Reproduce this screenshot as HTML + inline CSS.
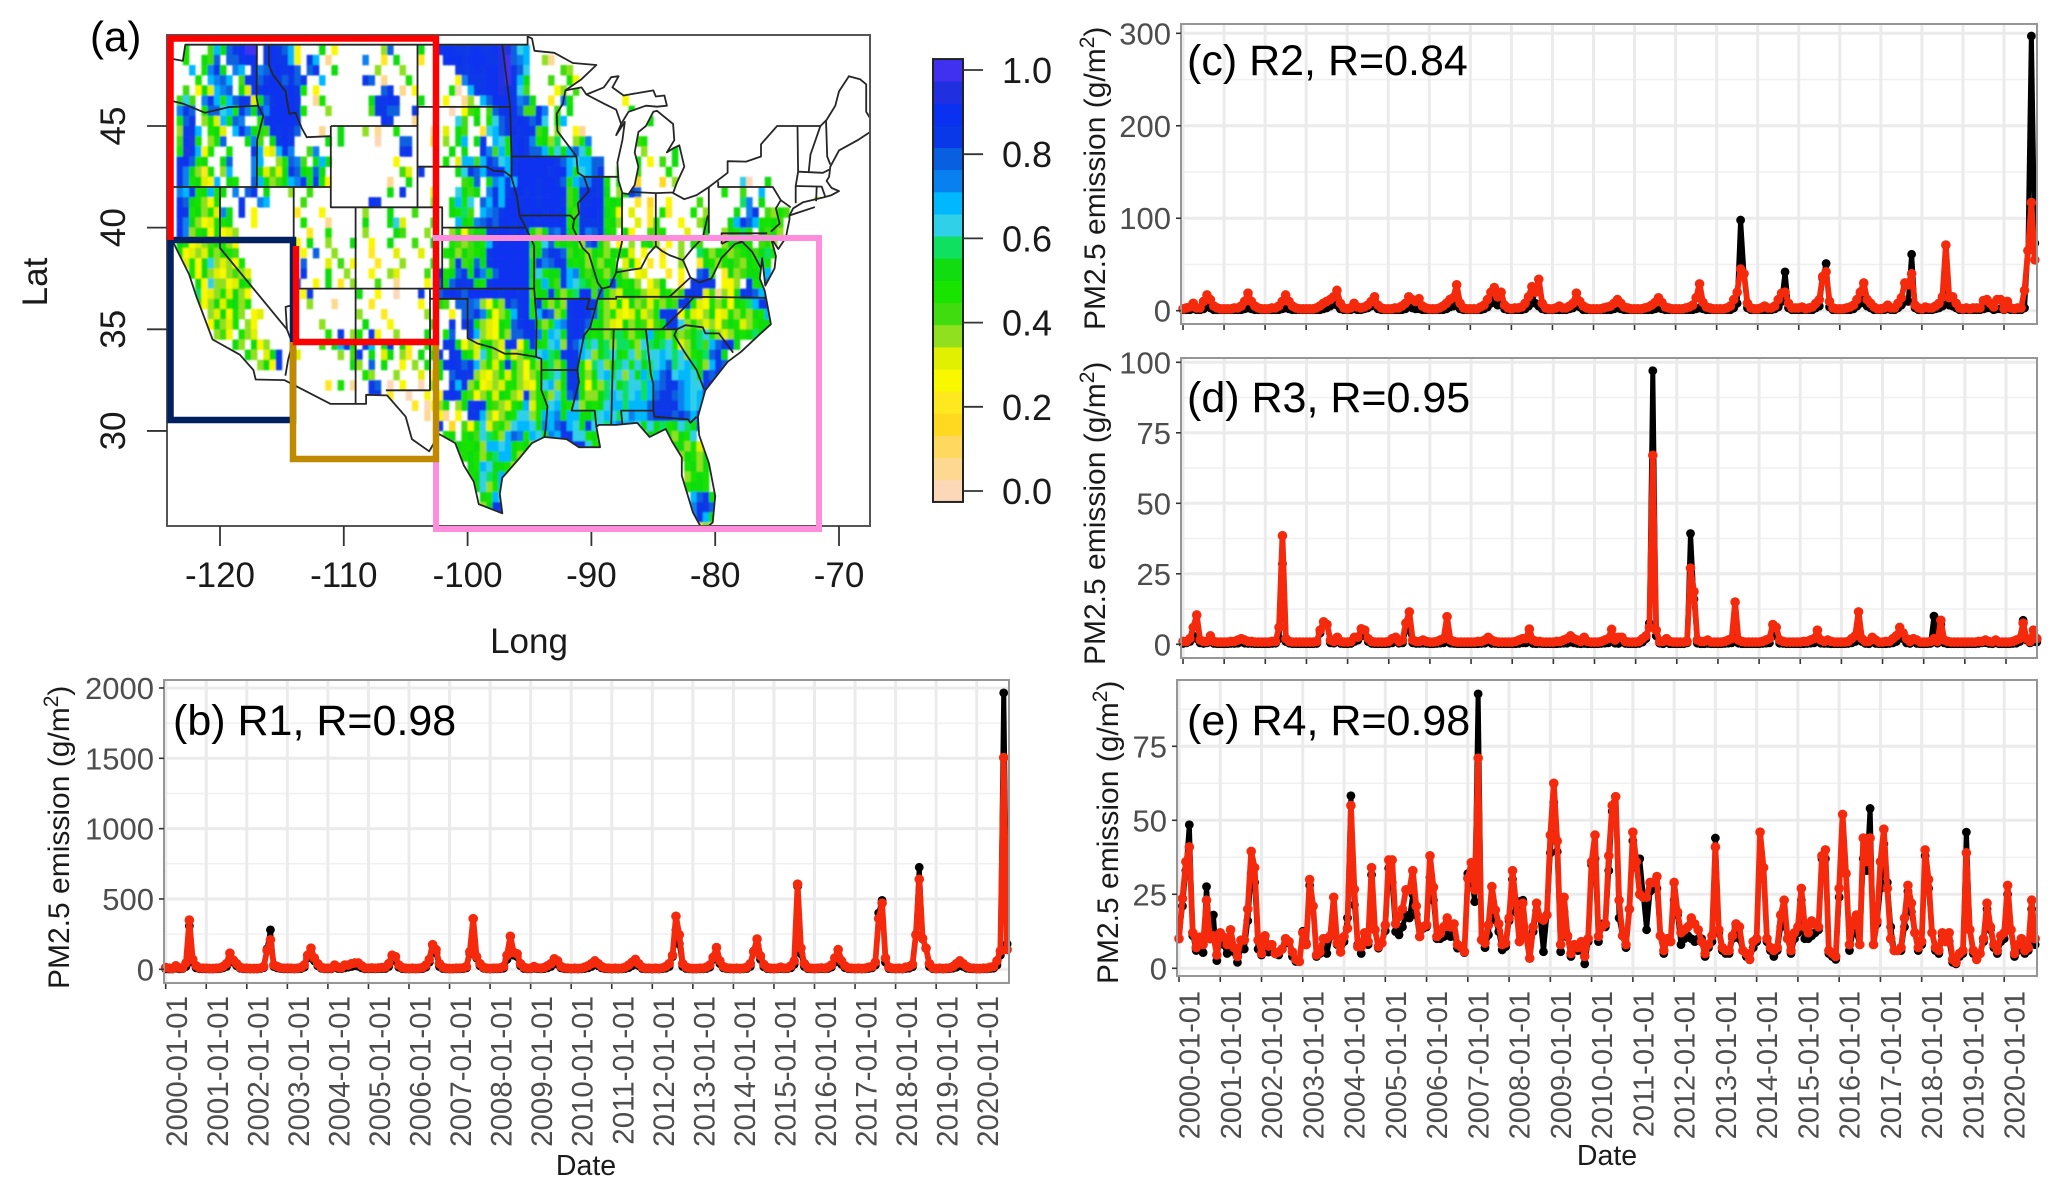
<!DOCTYPE html>
<html lang="en">
<head>
<meta charset="utf-8">
<title>PM2.5 emission map and regional time series</title>
<style>
html,body{margin:0;padding:0;background:#fff;}
svg{display:block;font-family:"Liberation Sans",sans-serif;}
</style>
</head>
<body>
<svg id="figure" xmlns="http://www.w3.org/2000/svg" width="2067" height="1199" viewBox="0 0 2067 1199">
  <rect x="0" y="0" width="2067" height="1199" fill="#fff"/>
  <defs>
    <filter id="soft" x="-2%" y="-2%" width="104%" height="104%"><feGaussianBlur stdDeviation="0.8"/></filter>
    <clipPath id="land-clip"><path id="land-clip-path" d=""/></clipPath>
    <clipPath id="map-box-clip"><rect x="168" y="36" width="702" height="490"/></clipPath>
  </defs>

  <g id="map-panel">
    <g clip-path="url(#map-box-clip)">
      <g filter="url(#soft)"><g id="heat-cells" clip-path="url(#land-clip)"></g></g>
      <g id="map-borders" fill="none" stroke="#262626" stroke-width="1.8" stroke-linejoin="round"></g>
    </g>
    <rect x="167" y="35" width="703" height="491" fill="none" stroke="#555" stroke-width="2"/>
    <g id="map-ticks"></g>
    <text x="90" y="51" font-size="42" fill="#000">(a)</text>
    <text x="529" y="653" font-size="35" fill="#1a1a1a" text-anchor="middle">Long</text>
    <text transform="translate(47,282) rotate(-90)" font-size="35" fill="#1a1a1a" text-anchor="middle">Lat</text>

    <rect x="436" y="238" width="383" height="291" fill="none" stroke="#ff8cdc" stroke-width="6"/>
    <rect x="170.5" y="240" width="122.5" height="180" fill="none" stroke="#00205f" stroke-width="6.5"/>
    <polyline points="293,342 293,459 436,459 436,342" fill="none" stroke="#bf8a00" stroke-width="6.5"/>
    <polyline points="170.5,240 170.5,38.5 436,38.5 436,342 296,342 296,246" fill="none" stroke="#ff0000" stroke-width="6.5"/>
    <line x1="433" y1="238" x2="822" y2="238" stroke="#ff8cdc" stroke-width="6"/>
  </g>

  <g id="colorbar"></g>

  <g id="panel-b"></g>
  <g id="panel-c"></g>
  <g id="panel-d"></g>
  <g id="panel-e"></g>
</svg>

<script>
// ---------- time-series values (monthly, Jan 2000 .. Oct 2020) ----------
const yearLabels = ["2000-01-01","2001-01-01","2002-01-01","2003-01-01","2004-01-01","2005-01-01","2006-01-01","2007-01-01","2008-01-01","2009-01-01","2010-01-01","2011-01-01","2012-01-01","2013-01-01","2014-01-01","2015-01-01","2016-01-01","2017-01-01","2018-01-01","2019-01-01","2020-01-01"];

const ticksB = [0,500,1000,1500,2000];
const ticksC = [0,100,200,300];
const ticksD = [0,25,50,75,100];
const ticksE = [0,25,50,75];

const r1Observed = [
3,2,2,8,3,5,20,308,50,10,4,3,
3,2,2,3,4,10,20,85,50,25,8,3,
3,2,2,2,4,12,145,280,20,10,5,3,
3,3,2,3,5,15,80,100,60,25,8,3,
3,3,12,6,4,10,15,20,25,22,10,3,
3,4,3,4,5,6,20,70,60,15,5,3,
2,3,2,3,5,15,50,170,115,20,6,3,
2,2,3,3,4,10,110,360,80,25,8,3,
2,3,3,4,8,70,230,100,90,25,6,3,
3,8,4,3,5,10,20,50,35,10,4,3,
2,3,2,3,6,10,20,40,25,10,4,3,
2,3,2,3,6,12,25,45,25,6,3,3,
2,3,2,4,8,20,90,280,180,20,6,3,
2,2,3,3,6,15,70,100,40,10,4,3,
2,3,2,3,6,20,130,170,70,18,5,3,
2,3,6,3,4,10,35,590,110,20,5,3,
2,3,4,3,6,15,50,90,35,12,4,3,
2,3,2,3,6,10,30,400,490,50,6,3,
2,3,2,6,8,18,250,725,215,150,20,4,
2,3,2,3,4,8,15,30,20,8,4,3,
2,2,3,3,6,8,30,100,1965,180];

const r1Modeled = [
12,8,6,25,10,10,45,350,70,25,10,8,
8,6,6,8,10,20,40,115,65,40,15,8,
8,6,6,6,8,20,135,210,30,20,10,8,
8,8,6,8,12,30,100,150,80,40,15,8,
8,8,30,15,10,30,30,40,45,45,25,10,
8,10,8,10,12,15,40,100,90,30,12,8,
6,8,6,8,12,30,70,175,140,40,15,8,
6,6,8,8,10,20,125,360,90,40,15,8,
6,8,8,10,20,100,235,120,110,40,15,8,
8,20,10,8,12,25,40,75,60,20,10,8,
6,8,6,8,15,25,40,60,40,20,10,8,
6,8,6,8,15,30,50,70,40,15,8,8,
6,8,6,10,20,40,100,377,245,40,15,8,
6,6,8,8,15,30,85,155,60,20,10,8,
6,8,6,8,15,40,125,215,95,35,12,8,
6,8,15,8,10,25,60,605,150,40,12,8,
6,8,10,8,15,30,80,140,60,25,10,8,
6,8,6,8,15,20,50,360,470,80,15,8,
6,8,6,15,20,35,245,640,220,150,40,10,
6,8,6,8,10,20,40,60,40,20,10,8,
6,6,8,8,15,20,60,130,1505,140];

const r2Observed = [
1,1,1,2,1,1,2,5,3,1,1,1,
1,1,1,1,1,1,2,3,2,1,1,1,
1,1,1,1,1,2,3,2,1,1,1,1,
1,1,1,1,1,2,3,5,10,6,2,1,
1,1,2,1,1,2,3,5,8,2,1,1,
1,1,1,1,1,2,5,3,2,2,1,1,
1,1,1,1,1,2,4,5,10,2,1,1,
1,1,1,1,2,4,8,12,6,10,2,1,
1,1,1,1,2,5,15,8,5,2,1,1,
1,1,1,1,1,2,3,8,4,1,1,1,
1,1,1,1,1,1,2,3,2,1,1,1,
1,1,1,1,1,1,2,3,2,1,1,1,
1,1,1,1,1,1,2,3,2,1,1,1,
1,1,1,1,1,3,8,98,40,3,1,1,
1,1,1,1,1,2,4,10,42,3,1,1,
1,1,1,1,1,3,5,35,51,4,1,1,
1,1,1,1,2,5,8,12,5,3,1,1,
1,1,2,1,1,3,6,10,10,61,3,1,
1,1,1,1,2,3,5,22,6,5,3,1,
1,1,1,1,1,1,2,3,3,1,2,2,
1,2,1,1,1,1,3,65,297,73];

const r2Modeled = [
2,3,4,8,3,3,10,17,12,5,3,2,
2,2,2,3,3,5,10,19,10,5,3,2,
2,2,3,3,5,10,17,10,5,3,2,2,
2,2,2,3,5,8,10,12,15,22,8,3,
2,3,8,4,3,4,6,10,15,6,3,2,
2,2,3,3,5,8,15,12,10,13,5,3,
2,2,2,3,5,8,12,14,28,8,3,2,
2,2,2,4,6,12,20,25,15,20,6,3,
2,3,3,4,8,15,26,20,34,8,3,2,
2,3,5,3,3,5,8,19,10,5,3,2,
2,2,2,3,4,5,8,12,8,4,3,2,
2,2,2,3,4,6,9,14,9,4,3,2,
2,2,2,3,4,6,14,29,9,4,3,2,
2,2,2,3,5,12,20,45,40,8,3,2,
2,3,5,3,3,5,12,19,20,8,3,3,
3,4,2,3,4,8,12,37,42,10,3,2,
2,2,3,4,6,12,20,30,12,8,4,2,
2,3,6,3,3,8,14,30,28,40,6,3,
2,4,3,3,5,8,15,71,14,15,8,3,
2,3,2,3,3,3,11,12,8,4,12,12,
2,10,3,2,3,3,22,65,117,55];

const r3Observed = [
0.3,0.5,1,3,2,0.5,0.3,0.5,1,0.3,0.2,0.2,
0.2,0.2,0.3,0.3,0.4,0.8,0.4,0.3,0.3,0.2,0.2,0.2,
0.2,0.2,0.3,0.4,2,28.5,1,0.4,0.2,0.2,0.2,0.2,
0.2,0.2,0.2,0.3,4,8,7,0.5,0.4,1,0.3,0.2,
0.2,0.3,1,1.5,3,3,1,0.3,0.2,0.2,0.2,0.2,
0.3,0.5,1,0.4,0.5,5,5,0.5,0.3,0.3,0.4,0.3,
0.2,0.2,0.3,0.4,0.5,3,0.4,0.3,0.2,0.2,0.2,0.2,
0.2,0.2,0.2,0.3,0.4,1,0.3,0.3,0.2,0.2,0.2,0.2,
0.2,0.2,0.3,0.5,0.5,1,0.3,0.2,0.3,0.2,0.2,0.2,
0.2,0.2,0.3,0.4,0.4,0.8,0.5,0.3,0.2,0.3,0.2,0.2,
0.2,0.2,0.3,0.4,0.5,2,0.4,0.3,0.8,0.3,0.2,0.2,
0.2,0.3,0.8,2,7.5,97,3,0.4,0.2,0.8,0.2,0.2,
0.2,0.2,0.2,0.5,39.3,16,0.4,0.2,0.2,0.3,0.2,0.2,
0.2,0.2,0.3,0.4,0.5,5,0.4,0.2,0.2,0.2,0.2,0.2,
0.2,0.3,0.4,0.5,3,3,0.4,0.3,0.2,0.2,0.2,0.2,
0.2,0.2,0.3,0.4,0.5,3,0.4,0.3,0.3,0.2,0.2,0.2,
0.2,0.2,0.3,0.5,1,6,1,0.3,0.2,1,0.3,0.2,
0.2,0.2,0.3,0.5,1,3,2,0.5,0.3,1,0.3,0.2,
0.2,0.2,0.3,10,0.4,7,0.5,0.2,0.2,0.2,0.2,0.2,
0.2,0.2,0.2,0.2,0.3,0.5,0.6,0.3,0.2,0.5,0.2,0.2,
0.2,0.2,0.3,0.4,1,8.5,1.5,0.5,1,0.8];

const r3Modeled = [
1,1,2,6,10.4,1.5,1,1,3,1,0.8,0.8,
0.8,0.8,1,1,1.5,2,1.5,1,1,0.8,0.8,0.8,
0.8,0.8,1,1,6,38.5,2,1,0.8,0.8,0.8,0.8,
0.8,0.8,0.8,1,5,8,7,1.5,1,2.5,1,0.8,
0.8,1,2.5,2.5,5.5,5,2,1,0.8,0.8,0.8,0.8,
1,2,2.5,1,1.5,7.5,11.5,1.5,1,1,1.5,1,
0.8,0.8,1,1.5,2,9.8,1.5,1,0.8,0.8,0.8,0.8,
0.8,0.8,1,1,1.5,2.5,1.5,1,0.8,0.8,0.8,0.8,
0.8,1,1.5,2,2,5.4,1.5,1,1,0.8,0.8,0.8,
0.8,1,1,1.5,2,3,2,1.5,1,2.5,1,0.8,
0.8,0.8,1,1.5,2,5.3,1.5,2.5,2.5,1,0.8,0.8,
0.8,1,2,3,6,67,5,1,1,2,1,0.8,
0.8,0.8,0.8,1,27,18.7,1.5,1,1,1.5,0.8,0.8,
0.8,0.8,1,1.5,2,15,1.5,1,0.8,0.8,0.8,0.8,
0.8,1,1.5,2,7,6,1.5,1,0.8,0.8,0.8,0.8,
0.8,1,1,1.5,2,5,1.5,1,1.5,1,0.8,0.8,
0.8,0.8,1,2,3,11.5,2,1,1,2.5,1.5,0.8,
0.8,1,1,2,3,6,4,2,1,2,1.5,0.8,
0.8,0.8,1,2,1,8.5,1.5,1,0.8,0.8,0.8,0.8,
0.8,0.8,0.8,0.8,1,1,1.5,1,0.8,1.5,0.8,0.8,
0.8,0.8,1,1.5,2,7.5,2,1,5,2];

const r4Observed = [
10,21,33,48.5,11,6,7,5.3,27.6,10,18,2.6,
12,8,5,10,5.5,2,7,6.5,16,32,29,6.5,
4.5,8.5,5.5,8,5,4.5,6.5,8.5,9,4,2.3,2.3,
12.5,8.5,28,21,4,5,8,5,10.7,24,8,5.5,
9,17,58.3,21.4,8,5,12,8,31.6,13,6.8,8.5,
12.7,33.8,29,12.4,11.3,14,18,17,25,18,10.7,13.5,
14,30.7,23,10,10,10.7,11.3,10.7,11.8,6.8,7,5.3,
32,31,22.5,92.7,9.6,7,11.3,27.6,16.3,12.4,6.2,7.3,
16,30,19,22.5,23,10.7,3.4,12.4,19.4,17,5.6,18,
39,56,39.4,5.6,19,10.5,4,7,6,7,1.5,9,
35,37,9,15,14,33,53,58,17,11,7,20,
43,34,37,25,13,26,27,27,11,5,10,9,
23,18,8,10,11,10,9,10,10,4,7,9,
44,12,6,5,5,10,14,10,6,4,3,7,
9,46,34,9,6,4,6,14,17,10,5,10,
12,23,10,10,11,12,13,37,37,5,4,3,
24,52,32,6,12,12,8,37,33,54,8,15,
27,42,29,14,6,6,6,14,26,19,12,6,
8,38,27,12,6,5,11,9,9,2,1.5,4,
5,46,13,5,3,5,9,20,13,7,5,9,
10,25,13,4,6,9,5,6,20,8];

const r4Modeled = [
10,23.6,36,41,12,7,10.5,8,23,10,11,4.5,
12,10.5,8,13,7,4,9.5,9.5,20,39.5,34,9.5,
5,11,7.5,8,5,5.5,6.5,10,9,5.5,3,2.3,
12,8,30,21,4.5,5.5,10,10,11,24,8.5,5.5,
10.7,13.5,55,26.7,7.3,7.3,12,9,34,13,7.3,8.5,
14.6,36.6,36.6,15,17.5,20,26.5,26.5,33,21,10.7,14,
14.6,38,27.4,10.7,11.8,14,17,14,15,8,7.3,5.6,
30.4,35.7,26.5,71,9.6,8.5,14.6,27.6,19.7,15,8,8.5,
17,33,22,9,22,10.7,3.4,14,22,17,16.3,18,
45,62.5,43,8,24,11,5,8,7,9,4,10,
36,45,10.8,14,15,38,55,58,23,11,8,20,
46,36,25,24,24,29,29,31,11,6,10,9,
29,19,12,13,14,17,15,13,9,5,8,11,
41,13,7,6,6,11,15,14,6,5,3,9,
10,46,34,10,7,6,7,18,23,10,6,12,
14,27,14,12,16,15,14,38,40,6,5,4,
27,52,32,8,16,18,8,44,36,44,8,16,
36,47,27,10,6,6,7,17,28,22,12,7,
9,40,30,12,7,6,12,9,12,3,2,5,
6,39,13,6,3,5,10,22,14,8,6,11,
12,28,13,5,8,10,6,7,23,10];

// ---------- map grid values: one string per 0.5 degree of latitude, top row 49N.
// Letters a..t are ascending fractions, '.' is no data, '_' is a 5-degree empty group.
// Groups start at lon -125,-120,-115,-110,-105,-100,-95,-90,-85,-80,-75,-70.
const heatRows = [
"....j...in kpqrtt.qrq pnf...k.f. ......hp.. ..k..qrrqq qrqqrsspmn",
"....j..kip .ppqrr.qrq qnf.qn.b.. ...o..e.k. ..e...rrrq rrrqqstpon ..hb......",
".....n.joq k.on.qopqr qrp.pq..k. .....h...h ........qq qrqrrstqpm .....ih...",
"......j.no pn.iqqpqrq pqpq..n... ...qp.b... j.......fo qqqrrstqnk ...i..jf..",
"....i.fkgn op.kgqqrrr qrqj.f.... ......pq.b .f.....ja. nqqrrsrqmi ....fh.i..",
"...imi.oqn jnpqqgkpqr rrq..bj... ....kqqrq. ..k...f..b h.nprrrqop k..e.oj... .....f....",
"...oqp.jpp mnjqokqorr rrqj...h.. ....iqqpp. .q.....a.f ij.ipqrrpi iro.i.k... ......k...",
"...jpq.hjg nkpo..jqrr rrq....... ......rq.. .b......mi .k.jmpqqrq pqm.jn.... .........k",
"...hqqn.jk g.nqokjirq rqp...b..k ...h.b..j. ....b.g.ki ..emnpqrqr qik.h..fb. ......i...",
"...iqsj.hj p...koi.kq rq.....k.k .....a...p p...d.h.kn .kq.nmjqrq ojkhl..hjo .......ij. .....j....",
"...jsqnfj. .j...qnfgn qo..io.... .........q r......k.k ..qoinjqrq ppnjmknpmj ......i.h. ...k......",
"...qrpjk.. kp...on..h jpoi.knk.. ........f. ......j.gn ninqpmnqrr rrrrqpnmnn pp...j.k.f .i.k......",
"...qokhej. hn...okgig kqpkjpk... .........i g.q.....km qpnqqrnqrr rrrqrrnjmn pq..iihi.. ..j.......",
"...qojkgfn .kj..pnkhi knoqjqjf.. .......b.. k........i jp.konqnrr rqrrqpjnoo qqj.kh.d.. .d.h...... ....ma..k.",
"...onqjknj k.o.pq.k.. .h..i..... .......k.q ....g...mk ik.oqnqrrq rqrrrrikqr qqk.hkqp.. .....j.... .j..i..n..",
"...qpkjhfj ...q..on.. ...i...... ....rq.... ....h..knj m.pnqnrrqr rqrrrqikqq rrjkj..e.d ..f....i.. ....lo.k.. ......h..p",
"...rqjkhjg ok.q.f.... ..e...f... ...h...k.. .i.....kjl i.nopqrrrq rrqrqrjiqr rqkjf.g..e .je...j.h. ...k.oq.ih ji........",
"...qokhfgj jk...f.... ...j...b.. ...k...kmg ....i...nk jopqprrqrq rqrrrrjkqq qqjkh..g.e j...f..hj. ..knqpnjjk i.........",
"...rohjkfj fgh....... ....e..j.. ...h....ki ...h...hkf ikkqqrrqrq jhkpoqkjqo pqkj.kf..i ij...g..k. .hkjlj.kij h.........",
"...kjfghij jhf....... ..f.k..h.. .k..f..k.. .i..k..jih ikjnqrrrrr kjmpjkjkhp qkh.f.h.jk h.f.h.ji.. .hkjkj.ijh",
"...jfghgjh kji....... ...f.p..h. ....e...g. ..g...jkhk ijkqrrrrrr ikpqqpikjh kjhkjkg.f. .e..h..lkh kjhijkiklj",
"....gjfkmh ghfj...... ...p...g.i .f...e...h ....j..iqi jpkqrrrrrr kqoprqkjkh jhkj.gkf.e .f..h..ekj hjkihkjlj.",
".....jfkhg fhihg..... ...q...k.. h...f..hg. ...i.qjkpq kqokprrrrr kmjkkqnoki kjhkkh.fg. ..e.f..pqi .ekhikkjn.",
"......kfmh hfgkj..... ..p..f.k.e .h...i..b. ...f.pkpqq qkjqrrrrrr jknkiqnmlk ikjrkjkh.f hk..e.qqrq .ffh.qjko.",
"......lfgh jgkhf..... ...fq..... ..k..f..a. ..q..pqrqp rrrrrqrrqr ikkqkhjlrr ipjhgkkjhg gkjhiqqqgi bhfkqqpnqo",
"......ifhk gjkhj..... ....h...b. ....e..... ..f..ki.pp pohfjhqpqr jqjhkhqrrq qjhgjfkhig jhjiqrjgfj hjfkjlnqrp",
"........hg kfjh.fg... .......... ..h...e... ...h...f.p pqojfhjnqr jnqphjqrrq pkhjgfgjgh jqqrfjgfhk fgjhjhkjnq",
"........fk hgj.hf.... ......h... ...k...f.. ....i..q.q qkhgfkjpqr qkhjnoqrqp jkhgfkhjig ikqqmhjhgh fikjghjkkq",
".........h if.jhg.... .......j.q .hj.qf..h. ...k..jp.. qnhgfkhppq rojnmkqrqk jkhjljhjkn kjhkhiklmj hghkjklk..",
"_ ..kh.kfh.. ......i.kn qj.qn.jq.k f..jh.qqkf hgjkhgqqfk qkjmnhqpnl mklhlljhml klmjghklin pqrk......",
"_ ....kh.gkq ..g......h .iq.k.gk.h e.k.jq.rqk jgmjhfjghk jmnlkqrqnm hklmkjmhlm mnmlmhjklp qk........",
"_ ......hkfq .......... .kh.p.k..f .h.k.jqrqp qnhjgkqkhf jhklhkqqjg lmhklmjmkl mnplmnlkhn qp........",
"_ _ .......... ...jh...h. ..g.ek.pqq qhgfhjgjhf hjklmkqqjh kmnlmhmknl npqmnnmkqp q.........",
"_ _ .......e.j .b..qp.a.f ..a.h..qnq hjfghgjjhg fjmnhkqqjf jhlmklmmln opqqonmmqr",
"_ _ _ ....qq.e.. a..f.fqrqj ifhjgkjhgq hjkhmjpqjh hklnmlmnln pqqponmnq.",
"_ _ _ _ .e.afhk.hk qrqjihgjkn gjkmnkjmhk jkmnnlnnnp qqqqonmnm.",
"_ _ _ _ ...b.fb.f. qqnhfhkjmm hjnnoknnkk lmnmlmonnp qqqpqpnqk.",
"_ _ _ _ .....q.d.i fjmgijhmnn mkonpqnmkq mmlnonnmkm kljkmlkq..",
"_ _ _ _ ......jk.j kimljhnpoj nmkonqqmmj k.......hk kijhkjm...",
"_ _ _ _ ........kj jkhnnmnkjk hj..jkqrqm jk...... ...jkhjgh.",
"_ _ _ _ ........ij kjhklnnkhj .......... _ ....hkjhk.",
"_ _ _ _ _ kjnmkkjhkn _ _ .....jkhk.",
"_ _ _ _ _ jkmlknjh.. _ _ .....hjkj.",
"_ _ _ _ _ .kmhjnkk.. _ _ .....jkkj.",
"_ _ _ _ _ ..kjnmjk.. _ _ ......npqk",
"_ _ _ _ _ ..hkqqq... _ _ ......oqqp",
"_ _ _ _ _ ....qq.... _ _ ......oqnk",
"_ _ _ _ _ _ _ _ .......ghf"
];

const colorbarTicks = [0,0.2,0.4,0.6,0.8,1.0];
const lonTicks = [-120,-110,-100,-90,-80,-70];
const latTicks = [30,35,40,45];

// ---------- map geography (longitude, latitude) ----------
const usOutline = [[-124.7,48.4],[-123,48.2],[-122.8,49],[-95.15,49],[-95.15,49.4],[-94.8,49.3],[-94.6,48.7],[-93,48.6],[-91.5,48.1],[-89.6,48],[-90.8,47.3],[-92.1,46.75],[-90.8,46.9],[-90.4,46.55],[-89,46.9],[-88.4,47.4],[-87.8,47.45],[-88.3,46.9],[-87.4,46.5],[-86,46.65],[-85,46.75],[-84.8,46.45],[-84.1,46.5],[-83.9,46],[-84.7,45.95],[-85.6,46],[-86.5,45.8],[-87,45.7],[-87.6,45.1],[-88,44.55],[-87.3,45.2],[-87.5,44.3],[-87.9,43.2],[-87.8,42.3],[-87.5,41.7],[-87,41.65],[-86.5,42.1],[-86.2,43],[-86.5,43.7],[-86.2,44.7],[-85.6,45],[-85,45.7],[-84.7,45.75],[-83.4,45.1],[-83.3,44.3],[-83.9,43.7],[-83.4,43.9],[-82.9,44.05],[-82.5,43],[-83.1,42.2],[-83.4,41.7],[-82.5,41.4],[-81.5,41.6],[-80.5,42],[-79,42.7],[-79,43.27],[-77.5,43.25],[-76.3,43.5],[-76.3,44.1],[-75,45],[-71.5,45],[-71,45.3],[-70.3,46],[-70,46.7],[-69.2,47.45],[-68.3,47.3],[-67.8,47.05],[-67.8,45.7],[-67,44.9],[-68.5,44.3],[-70,43.8],[-70.7,43],[-70.8,42.5],[-71,42.3],[-70.6,41.95],[-70,41.8],[-70.6,41.6],[-71.2,41.5],[-72.9,41.25],[-73.7,40.95],[-74,40.6],[-74,40.4],[-74.3,39.5],[-74.9,38.95],[-75.5,39.5],[-75.1,38.6],[-75.2,38],[-75.95,37.15],[-76.2,38.5],[-76.4,37.5],[-76,36.9],[-75.5,35.25],[-76.5,34.7],[-77.9,33.9],[-79,33.4],[-80.8,32],[-81.4,30.7],[-81.3,29.8],[-80.5,28.4],[-80,26.8],[-80.2,25.5],[-81,25.1],[-81.8,26],[-82.7,27.8],[-82.7,28.7],[-83.5,29.5],[-84,30.1],[-85.3,29.7],[-86.3,30.4],[-88,30.3],[-89.4,30.3],[-89.6,30.2],[-89.3,29.2],[-90,29.2],[-91,29.2],[-92,29.6],[-93.8,29.7],[-94.8,29.4],[-95.9,28.6],[-97.2,27.7],[-97.4,26.9],[-97.2,25.95],[-99.1,26.4],[-99.5,27.5],[-100.3,28.3],[-101,29.4],[-102.3,29.85],[-103.1,29],[-104.5,29.6],[-105,30.7],[-106.5,31.75],[-108.2,31.78],[-108.2,31.33],[-111.07,31.33],[-114.8,32.5],[-117.12,32.53],[-117.3,33],[-118.4,33.75],[-120.6,34.5],[-121.9,36.6],[-122.5,37.7],[-123.8,39.3],[-124.4,40.4],[-124.2,42],[-124.5,42.8],[-124,44.8],[-123.9,46.2],[-124.7,48.4]];

const stateLines = [
[[-124,46.25],[-123,46.1],[-121.2,45.65],[-119.3,45.93],[-116.92,46]],
[[-117.03,49],[-117.04,46.4],[-116.92,46],[-116.5,45.5],[-117,44.3],[-117.03,42]],
[[-124.2,42],[-111.05,42]],
[[-116.05,49],[-116.05,48],[-115.7,47.5],[-114.7,46.7],[-114.4,45.6],[-113.9,45.65],[-113.4,44.9],[-113,44.45],[-111.05,44.5]],
[[-111.05,45],[-104.05,45],[-104.05,41],[-111.05,41],[-111.05,45]],
[[-104.05,49],[-104.05,45]],
[[-104.05,45.94],[-96.56,45.94]],
[[-104.05,43],[-98.5,43],[-97.9,42.8],[-97,42.75],[-96.45,42.49]],
[[-104.05,41],[-102.05,41],[-102.05,37]],
[[-102.05,40],[-95.3,40]],
[[-109.05,41],[-109.05,31.33]],
[[-114.05,42],[-114.05,36.2],[-114.7,36.1],[-114.6,35],[-114.15,34.3],[-114.5,33.5],[-114.72,32.72]],
[[-120,42],[-120,39],[-114.6,35]],
[[-114.05,37],[-94.62,37]],
[[-103.04,37],[-103.04,32],[-106.6,32]],
[[-103,36.5],[-100,36.5],[-100,34.56],[-99.2,34.3],[-98,34.1],[-97,33.8],[-96,33.8],[-94.47,33.64],[-94.04,33.55],[-94.04,32],[-93.55,31.2],[-93.7,30.1],[-93.8,29.7]],
[[-94.62,39.1],[-94.62,37],[-94.43,35.4],[-94.47,33.64]],
[[-94.62,39.1],[-95.3,40],[-95.8,40.6],[-96,41.5],[-96.45,42.49],[-96.45,43.5],[-96.56,45.94],[-97.2,49]],
[[-94.04,33],[-91.15,33]],
[[-94.62,36.5],[-90.15,36.5],[-90.37,36],[-89.7,36]],
[[-95.77,40.6],[-91.7,40.6],[-91.4,40.4]],
[[-96.45,43.5],[-91.2,43.5]],
[[-92.1,46.75],[-92.3,46.1],[-92.8,45.6],[-92.75,44.75],[-91.2,43.5],[-91.1,42.7],[-90.6,42.5],[-90.2,41.8],[-91.1,41.2],[-91,40.7],[-91.4,40.4],[-91.5,40],[-90.7,39],[-90.2,38.7],[-89.5,37.3],[-89.15,37],[-89.5,36.5],[-89.7,36],[-90.1,35.1],[-90.6,34.7],[-91.15,33],[-91,32.4],[-91.6,31],[-89.73,31],[-89.6,30.2]],
[[-90.1,35],[-84.3,35],[-83.1,35]],
[[-88.2,35],[-88.4,30.3]],
[[-85.6,35],[-85.2,32.8],[-85,32.3],[-85,31],[-87.6,31],[-87.5,30.3]],
[[-85,31],[-84.9,30.7],[-82.2,30.57],[-82,30.4],[-81.5,30.7]],
[[-89.5,36.5],[-88,36.5],[-88,36.6],[-81.7,36.6],[-75.9,36.55]],
[[-81.7,36.6],[-82.6,36],[-84.3,35]],
[[-83.1,35],[-82.4,35.2],[-81,35.1],[-80.8,34.8],[-79.7,34.8],[-78.55,33.85]],
[[-83.1,35],[-83.3,34.7],[-82.5,33.9],[-81.5,33],[-80.9,32.05]],
[[-89.15,37],[-88.5,37.1],[-88,37.8],[-87,37.9],[-86,38],[-85.4,38.7],[-84.8,39.1],[-84.3,38.85],[-83.7,38.65],[-82.6,38.4],[-81.8,39],[-81,39.5],[-80.6,40.6]],
[[-82.6,38.4],[-82,37.55],[-83.7,36.6]],
[[-82,37.55],[-81.3,37.3],[-80.3,37.5],[-79.5,38.5],[-78.4,39.2],[-77.8,39.3]],
[[-79.48,39.2],[-79.48,39.72],[-75.8,39.72]],
[[-79.48,39.2],[-78.5,39.5],[-77.8,39.3],[-77,38.8],[-76.3,38]],
[[-80.52,42],[-80.52,39.72]],
[[-79.76,42.27],[-79.76,42],[-75.35,42],[-74.7,41.35],[-75.1,40.95],[-74.8,40.2],[-75.5,39.8]],
[[-74.7,41.35],[-73.9,41]],
[[-73.5,41.2],[-73.5,42.05],[-73.3,42.75],[-73.35,45]],
[[-72.45,42.73],[-72.3,43.6],[-71.5,45]],
[[-71.05,45.3],[-70.95,43.5],[-70.7,43.1]],
[[-73.3,42.75],[-71.3,42.7],[-70.8,42.85]],
[[-73.5,42.05],[-71.4,42.02],[-71.1,41.5]],
[[-71.8,42.02],[-71.85,41.3]],
[[-84.8,41.7],[-84.8,39.1]],
[[-87.53,41.7],[-87.53,39.3],[-87.9,38.3],[-88,37.8]],
[[-86.8,41.76],[-84.8,41.7],[-83.45,41.73]],
[[-90.6,42.5],[-87.8,42.5]],
[[-90.4,46.55],[-89,46.1],[-88,45.8],[-87.6,45.1]],
[[-74,40.6],[-72,41],[-73.5,40.7],[-74,40.6]]
];

// ---------- style / geometry helpers ----------
const barColors = ["#fcd8b8","#fdd890","#ffd860","#ffd820","#ffe820","#f8f800","#e0f000","#90e020","#40dc10","#18e400","#10dc10","#10e060","#30d0e8","#00b8ff","#0880f0","#0860e0","#0838e8","#0a30f0","#2030e0","#4030f0"];
const SVGNS = "http://www.w3.org/2000/svg";
function make(tag, attrs, parent){
  const el = document.createElementNS(SVGNS, tag);
  for (const k in attrs) el.setAttribute(k, attrs[k]);
  parent.appendChild(el);
  return el;
}

// ---------- map ----------
const lonX = lon => 220 + (lon + 120) * 12.38;
const latY = lat => 126 + (45 - lat) * 20.33;
const barY = v => 491 - v * 421;
const BAR_MIN = -0.026, BAR_STEP = 1.052 / barColors.length;
function colorOf(v){
  let i = Math.floor((v - BAR_MIN) / BAR_STEP);
  i = Math.max(0, Math.min(barColors.length - 1, i));
  return barColors[i];
}
function letterValue(ch){ return BAR_MIN + (ch.charCodeAt(0) - 97 + 0.5) * BAR_STEP; }
function lonLatPath(pts){
  return pts.map((p,i)=>(i?"L":"M")+lonX(p[0]).toFixed(1)+" "+latY(p[1]).toFixed(1)).join(" ");
}

document.getElementById("land-clip-path").setAttribute("d", lonLatPath(usOutline)+" Z");

const heatG = document.getElementById("heat-cells");
heatRows.forEach((row, r) => {
  const latTop = 49 - r * 0.5;
  const groups = row.trim().split(/\s+/);
  groups.forEach((grp, g) => {
    if (grp === "_") return;
    for (let c = 0; c < grp.length; c++) {
      const ch = grp[c];
      if (ch === ".") continue;
      const lon = -125 + g * 5 + c * 0.5;
      const cell = make("rect", {
        x: lonX(lon).toFixed(2), y: latY(latTop).toFixed(2),
        width: (0.5 * 12.38 + 0.3).toFixed(2), height: (0.5 * 20.33 + 0.3).toFixed(2),
        fill: colorOf(letterValue(ch))
      }, heatG);
      
      
    }
  });
});

const bordersG = document.getElementById("map-borders");
const outlineEl = make("path", {d: lonLatPath(usOutline)+" Z"}, bordersG);


stateLines.forEach(line => {
  const b = make("path", {d: lonLatPath(line)}, bordersG);
  
  
});

const mapTicks = document.getElementById("map-ticks");
lonTicks.forEach(v => {
  const x = lonX(v);
  const t = make("line", {x1:x, x2:x, y1:526, y2:546, stroke:"#333", "stroke-width":1.8}, mapTicks);
  
  
  const l = make("text", {x:x, y:587, "font-size":35, fill:"#1a1a1a", "text-anchor":"middle"}, mapTicks);
  l.textContent = String(v);
  
  
});
latTicks.forEach(v => {
  const y = latY(v);
  const t = make("line", {x1:147, x2:167, y1:y, y2:y, stroke:"#333", "stroke-width":1.8}, mapTicks);
  
  
  const l = make("text", {transform:`translate(125,${y}) rotate(-90)`, "font-size":35, fill:"#1a1a1a", "text-anchor":"middle"}, mapTicks);
  l.textContent = String(v);
  
  
});

// ---------- colorbar ----------
const cb = document.getElementById("colorbar");
barColors.forEach((c, i) => {
  const vLow = BAR_MIN + i * BAR_STEP;
  const vHigh = vLow + BAR_STEP;
  const band = make("rect", {x:933, width:30, y:barY(vHigh).toFixed(2), height:(barY(vLow)-barY(vHigh)+0.4).toFixed(2), fill:c}, cb);
  
  
});
const cbFrame = make("rect", {x:933, y:barY(1.026), width:30, height:barY(-0.026)-barY(1.026), fill:"none", stroke:"#222", "stroke-width":2}, cb);


colorbarTicks.forEach(v => {
  const y = barY(v);
  const t = make("line", {x1:963, x2:983, y1:y, y2:y, stroke:"#333", "stroke-width":1.8}, cb);
  
  
  const l = make("text", {x:1002, y:y+13, "font-size":36, fill:"#1a1a1a"}, cb);
  l.textContent = v.toFixed(1);
  
  
});

// ---------- time-series panels ----------
function drawPanel(cfg){
  const g = document.getElementById(cfg.id);
  const X = i => cfg.x0 + cfg.perYear * (i / 12);
  const Xy = k => cfg.x0 + cfg.perYear * k;
  const Y = v => cfg.y0 - cfg.perUnit * v;

  const bg = make("rect", {x:cfg.L, y:cfg.T, width:cfg.R-cfg.L, height:cfg.B-cfg.T, fill:"#fff"}, g);
  
  

  const step = cfg.yTicks[1] - cfg.yTicks[0];
  cfg.yTicks.forEach(v => {
    const y = Y(v);
    const gl = make("line", {x1:cfg.L, x2:cfg.R, y1:y, y2:y, stroke:"#ebebeb", "stroke-width":3}, g);
    
    
    const my = Y(v + step / 2);
    if (my > cfg.T) {
      const ml = make("line", {x1:cfg.L, x2:cfg.R, y1:my, y2:my, stroke:"#f0f0f0", "stroke-width":1.5}, g);
      
      
    }
  });
  yearLabels.forEach((lab, k) => {
    const x = Xy(k);
    const gl = make("line", {x1:x, x2:x, y1:cfg.T, y2:cfg.B, stroke:"#ebebeb", "stroke-width":3}, g);
    
    
    const t = make("line", {x1:x, x2:x, y1:cfg.B, y2:cfg.B+6, stroke:"#333", "stroke-width":1.6}, g);
    
    
    if (cfg.showDates) {
      const l = make("text", {transform:`translate(${(x+cfg.dateOffset).toFixed(1)},${cfg.dateTop}) rotate(-90)`, "font-size":cfg.dateSize, fill:"#4d4d4d", "text-anchor":"end"}, g);
      l.textContent = lab;
      
      
    }
  });

  const drawSeries = (vals, color, width, radius, name) => {
    const s = make("g", {}, g);
    
    
    const d = vals.map((v,i)=>(i?"L":"M")+X(i).toFixed(2)+" "+Y(v).toFixed(2)).join(" ");
    const line = make("path", {d:d, fill:"none", stroke:color, "stroke-width":width, "stroke-linejoin":"round"}, s);
    
    
    vals.forEach((v,i) => {
      const c = make("circle", {cx:X(i).toFixed(2), cy:Y(v).toFixed(2), r:radius, fill:color}, s);
      
      
    });
  };
  drawSeries(cfg.observed, "#000000", 5, 4.4, "observed-series");
  drawSeries(cfg.modeled, "#f52a0d", 5.8, 4.8, "modeled-series");

  const frame = make("rect", {x:cfg.L, y:cfg.T, width:cfg.R-cfg.L, height:cfg.B-cfg.T, fill:"none", stroke:"#969696", "stroke-width":2}, g);
  
  

  cfg.yTicks.forEach(v => {
    const y = Y(v);
    const t = make("line", {x1:cfg.L-5, x2:cfg.L, y1:y, y2:y, stroke:"#333", "stroke-width":1.6}, g);
    
    
    const l = make("text", {x:cfg.L-10, y:y+11, "font-size":31, fill:"#4d4d4d", "text-anchor":"end"}, g);
    l.textContent = String(v);
    
    
  });

  const title = make("text", {transform:`translate(${cfg.titleX},${cfg.titleBottom}) rotate(-90)`, "font-size":30, fill:"#1a1a1a"}, g);
  
  
  const t1 = make("tspan", {}, title); t1.textContent = "PM2.5 emission (g/m";
  const t2 = make("tspan", {dy:-11, "font-size":21}, title); t2.textContent = "2";
  const t3 = make("tspan", {dy:11}, title); t3.textContent = ")";

  const lab = make("text", {x:cfg.labelX, y:cfg.labelY, "font-size":43, fill:"#000"}, g);
  lab.textContent = cfg.label;
  
  

  if (cfg.showDates) {
    const dt = make("text", {x:cfg.dateTitleX, y:cfg.dateTitleY, "font-size":28.5, fill:"#1a1a1a", "text-anchor":"middle"}, g);
    dt.textContent = "Date";
    
    
  }
}

drawPanel({id:"panel-b", L:164, R:1009, T:680, B:983, x0:165.7, perYear:40.55, y0:969.3, perUnit:70.33/500,
  yTicks:ticksB, observed:r1Observed, modeled:r1Modeled, showDates:true, dateOffset:21.5, dateTop:996, dateSize:29.5,
  titleX:69, titleBottom:989, label:"(b) R1, R=0.98", labelX:173, labelY:735, dateTitleX:586, dateTitleY:1175});
drawPanel({id:"panel-c", L:1181, R:2037, T:24, B:324, x0:1183, perYear:41.05, y0:310.7, perUnit:(310.7-33.3)/300,
  yTicks:ticksC, observed:r2Observed, modeled:r2Modeled, showDates:false,
  titleX:1105, titleBottom:330, label:"(c) R2, R=0.84", labelX:1187, labelY:75});
drawPanel({id:"panel-d", L:1181, R:2037, T:358, B:658, x0:1183, perYear:41.15, y0:644.3, perUnit:2.82,
  yTicks:ticksD, observed:r3Observed, modeled:r3Modeled, showDates:false,
  titleX:1105, titleBottom:665, label:"(d) R3, R=0.95", labelX:1187, labelY:412});
drawPanel({id:"panel-e", L:1177, R:2037, T:680, B:976, x0:1179, perYear:41.26, y0:968.3, perUnit:2.96,
  yTicks:ticksE, observed:r4Observed, modeled:r4Modeled, showDates:true, dateOffset:20.5, dateTop:991, dateSize:29,
  titleX:1118, titleBottom:984, label:"(e) R4, R=0.98", labelX:1187, labelY:735, dateTitleX:1607, dateTitleY:1165});
</script>
</body>
</html>
